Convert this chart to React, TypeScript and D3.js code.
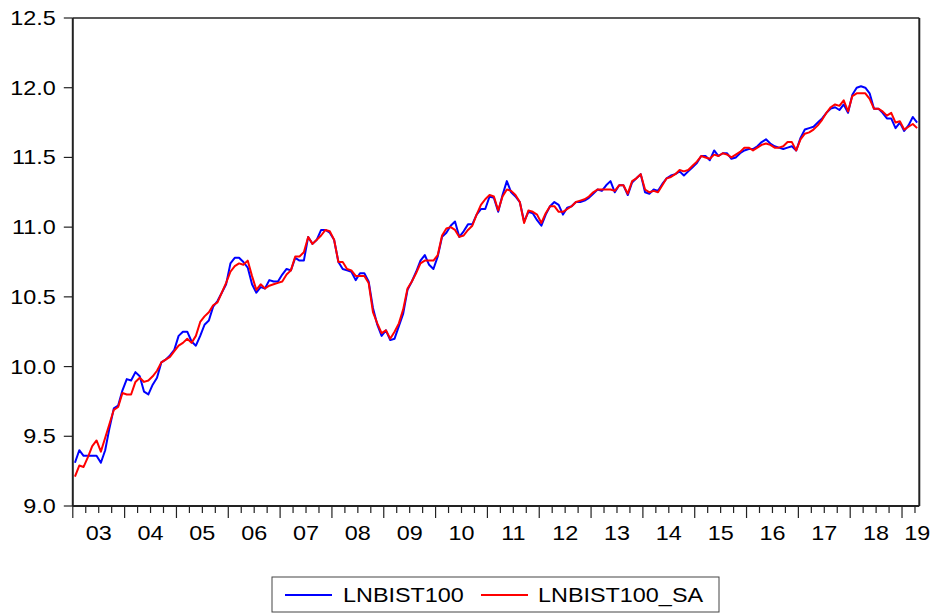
import React from "react";
import * as d3 from "d3";

// Monthly observations, 2003M01 – 2019M04
const START_YEAR = 2003;
const lnbist100: number[] = [
  // 2003 – 2006M02
  9.31, 9.40, 9.36, 9.36, 9.36, 9.36, 9.31, 9.40, 9.56, 9.70, 9.72, 9.83,
  9.91, 9.90, 9.96, 9.93, 9.82, 9.80, 9.87, 9.92, 10.03, 10.05, 10.08, 10.12,
  10.22, 10.25, 10.25, 10.18, 10.15, 10.22, 10.30, 10.33, 10.43, 10.47, 10.53, 10.59,
  10.74, 10.78,
  // 2006M03 – 2009M03
  10.78, 10.75, 10.71, 10.59, 10.53, 10.57, 10.56, 10.62, 10.61, 10.61,
  10.66, 10.70, 10.69, 10.78, 10.76, 10.76, 10.93, 10.88, 10.91, 10.98, 10.98, 10.96,
  10.91, 10.75, 10.70, 10.69, 10.68, 10.62, 10.67, 10.67, 10.61, 10.42, 10.30, 10.22,
  10.26, 10.19, 10.20,
  // 2009M04 – 2012M07
  10.29, 10.38, 10.55, 10.61, 10.68, 10.76, 10.80, 10.73, 10.70,
  10.79, 10.93, 10.96, 11.01, 11.04, 10.93, 10.97, 11.02, 11.02, 11.09, 11.13, 11.13,
  11.22, 11.21, 11.11, 11.23, 11.33, 11.25, 11.22, 11.18, 11.04, 11.11, 11.10, 11.05,
  11.01, 11.09, 11.15, 11.18, 11.16, 11.09, 11.14,
  // 2012M08 – 2015M08
  11.15, 11.18, 11.18, 11.19, 11.21,
  11.24, 11.27, 11.26, 11.30, 11.33, 11.25, 11.30, 11.30, 11.23, 11.32, 11.35, 11.38,
  11.25, 11.24, 11.27, 11.26, 11.31, 11.35, 11.37, 11.38, 11.40, 11.37, 11.40, 11.43,
  11.46, 11.51, 11.51, 11.48, 11.55, 11.51, 11.53, 11.53,
  // 2015M09 – 2019M04
  11.49, 11.50, 11.53, 11.55,
  11.56, 11.56, 11.58, 11.61, 11.63, 11.60, 11.58, 11.57, 11.56, 11.57, 11.58, 11.55,
  11.64, 11.70, 11.71, 11.72, 11.75, 11.78, 11.82, 11.85, 11.86, 11.84, 11.88, 11.82,
  11.95, 12.00, 12.01, 12.00, 11.96, 11.85, 11.85, 11.82, 11.78, 11.78, 11.71, 11.75,
  11.69, 11.73, 11.79, 11.75,
];

const lnbist100Sa: number[] = [
  // 2003 – 2006M02
  9.21, 9.29, 9.28, 9.35, 9.43, 9.47, 9.39, 9.49, 9.59, 9.69, 9.71, 9.81,
  9.80, 9.80, 9.89, 9.92, 9.89, 9.90, 9.93, 9.97, 10.03, 10.05, 10.07, 10.11,
  10.15, 10.17, 10.20, 10.17, 10.22, 10.32, 10.36, 10.39, 10.44, 10.46, 10.53, 10.60,
  10.68, 10.72,
  // 2006M03 – 2009M03
  10.74, 10.73, 10.76, 10.65, 10.55, 10.59, 10.56, 10.58, 10.59, 10.60,
  10.61, 10.66, 10.69, 10.79, 10.79, 10.82, 10.93, 10.88, 10.91, 10.94, 10.98, 10.97,
  10.91, 10.75, 10.75, 10.70, 10.69, 10.65, 10.65, 10.65, 10.60, 10.39, 10.31, 10.24,
  10.26, 10.20, 10.25,
  // 2009M04 – 2012M07
  10.31, 10.41, 10.56, 10.61, 10.67, 10.74, 10.76, 10.76, 10.76,
  10.80, 10.94, 10.99, 11.00, 10.98, 10.93, 10.94, 10.98, 11.01, 11.09, 11.16, 11.20,
  11.23, 11.22, 11.12, 11.22, 11.27, 11.26, 11.23, 11.18, 11.03, 11.12, 11.11, 11.09,
  11.03, 11.10, 11.15, 11.15, 11.11, 11.11, 11.13,
  // 2012M08 – 2015M08
  11.15, 11.18, 11.19, 11.20, 11.22,
  11.25, 11.27, 11.27, 11.27, 11.27, 11.26, 11.30, 11.30, 11.24, 11.33, 11.35, 11.38,
  11.27, 11.25, 11.26, 11.25, 11.30, 11.35, 11.36, 11.38, 11.41, 11.40, 11.41, 11.44,
  11.47, 11.51, 11.50, 11.49, 11.52, 11.51, 11.53, 11.52,
  // 2015M09 – 2019M04
  11.50, 11.52, 11.54, 11.57,
  11.57, 11.55, 11.57, 11.59, 11.60, 11.59, 11.57, 11.57, 11.58, 11.61, 11.61, 11.55,
  11.63, 11.67, 11.68, 11.70, 11.73, 11.77, 11.82, 11.86, 11.88, 11.87, 11.91, 11.83,
  11.94, 11.96, 11.96, 11.96, 11.92, 11.85, 11.85, 11.83, 11.80, 11.82, 11.75, 11.76,
  11.70, 11.72, 11.74, 11.71,
];

const yTicks: number[] = [9.0, 9.5, 10.0, 10.5, 11.0, 11.5, 12.0, 12.5];
const yearLabels: string[] = [
  "03", "04", "05", "06", "07", "08", "09", "10", "11",
  "12", "13", "14", "15", "16", "17", "18", "19",
];
const seriesNames: string[] = ["LNBIST100", "LNBIST100_SA"];
const seriesColors: string[] = ["#0000ff", "#ff0000"];

const W = 936;
const H = 615;
const PLOT = { left: 72.8, right: 919.3, top: 18, bottom: 506 };
const FONT = "'Liberation Sans', Arial, Helvetica, sans-serif";
const FS = 20;
const SX = 1.17; // wide text

export default function App() {
  const nObs = lnbist100.length;
  // months mapped onto the axis; observations sit mid-month
  const x = d3.scaleLinear().domain([0, nObs]).range([PLOT.left, PLOT.right]);
  const y = d3.scaleLinear().domain([9, 12.5]).range([PLOT.bottom, PLOT.top]);

  const line = d3
    .line<number>()
    .x((_, i) => x(i + 0.5))
    .y((d) => y(d));

  const monthTicks = d3.range(0, nObs + 1, 3);

  const Wide = ({ x: tx, y: ty, anchor, children }: any) => (
    <text
      transform={`translate(${tx},${ty}) scale(${SX},1)`}
      textAnchor={anchor}
      fontFamily={FONT}
      fontSize={FS}
      fill="#000"
    >
      {children}
    </text>
  );

  const legend = { x: 272, y: 577, w: 447, h: 35 };

  return (
    <svg
      width={W}
      height={H}
      style={{ position: "absolute", left: 0, top: 0, background: "#fff" }}
    >
      <rect x={0} y={0} width={W} height={H} fill="#fff" />

      {/* series */}
      <path d={line(lnbist100) || ""} fill="none" stroke={seriesColors[0]} strokeWidth={2} strokeLinejoin="round" />
      <path d={line(lnbist100Sa) || ""} fill="none" stroke={seriesColors[1]} strokeWidth={2} strokeLinejoin="round" />

      {/* frame */}
      <line x1={PLOT.left} x2={PLOT.right} y1={PLOT.top} y2={PLOT.top} stroke="#222" strokeWidth={1.5} />
      <line x1={PLOT.left} x2={PLOT.right} y1={PLOT.bottom} y2={PLOT.bottom} stroke="#222" strokeWidth={2} />
      <line x1={PLOT.left} x2={PLOT.left} y1={PLOT.top} y2={PLOT.bottom} stroke="#222" strokeWidth={2} />
      <line x1={PLOT.right} x2={PLOT.right} y1={PLOT.top} y2={PLOT.bottom} stroke="#222" strokeWidth={2} />

      {/* y axis */}
      {yTicks.map((t) => (
        <g key={t}>
          <line x1={PLOT.left - 9} x2={PLOT.left} y1={y(t)} y2={y(t)} stroke="#222" strokeWidth={1.2} />
          <Wide x={PLOT.left - 17} y={y(t) + 7} anchor="end">
            {t.toFixed(1)}
          </Wide>
        </g>
      ))}

      {/* x axis: quarterly ticks, longer at each year */}
      {monthTicks.map((m) => (
        <line
          key={m}
          x1={x(m)}
          x2={x(m)}
          y1={PLOT.bottom}
          y2={PLOT.bottom + (m % 12 === 0 ? 12 : 7)}
          stroke="#222"
          strokeWidth={1.2}
        />
      ))}
      {yearLabels.map((lab, k) => {
        const startM = k * 12;
        const endM = Math.min(startM + 12, nObs);
        let cx = x((startM + endM) / 2);
        if (endM - startM < 12) cx = x(endM) - 2;
        return (
          <Wide key={lab} x={cx} y={540} anchor="middle">
            {lab}
          </Wide>
        );
      })}

      {/* legend */}
      <rect x={legend.x} y={legend.y} width={legend.w} height={legend.h} fill="#fff" stroke="#444" strokeWidth={1} />
      <line x1={285} x2={332} y1={595} y2={595} stroke={seriesColors[0]} strokeWidth={2} />
      <Wide x={343} y={602} anchor="start">
        {seriesNames[0]}
      </Wide>
      <line x1={481} x2={528} y1={595} y2={595} stroke={seriesColors[1]} strokeWidth={2} />
      <Wide x={538} y={602} anchor="start">
        {seriesNames[1]}
      </Wide>
    </svg>
  );
}
